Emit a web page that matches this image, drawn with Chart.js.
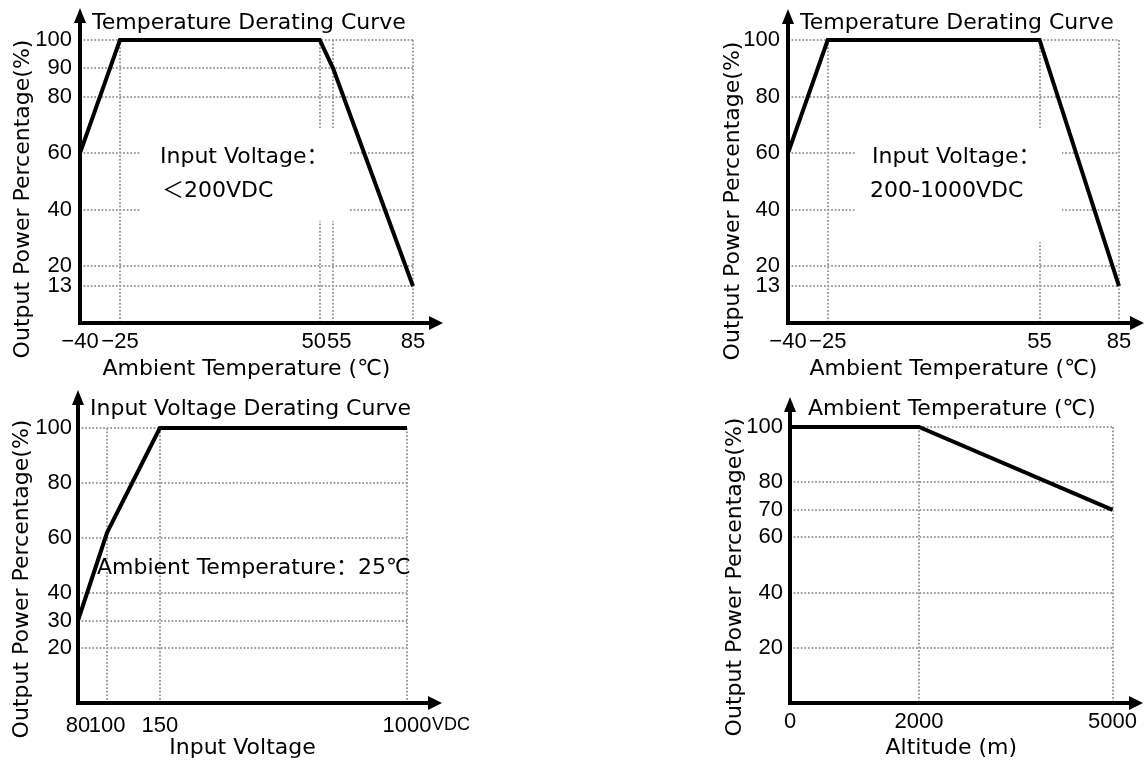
<!DOCTYPE html>
<html>
<head>
<meta charset="utf-8">
<script src="https://cdn.jsdelivr.net/npm/chart.js@4.4.0/dist/chart.umd.min.js"></script>
<style>
  body { margin: 0; background: #fff; width: 1145px; height: 763px; position: relative; overflow: hidden; }
  .box { position: absolute; }
</style>
</head>
<body>
<div class="box" style="left:0;top:0"><canvas id="c1" width="460" height="380"></canvas></div>
<div class="box" style="left:680px;top:0"><canvas id="c2" width="465" height="380"></canvas></div>
<div class="box" style="left:0;top:380px"><canvas id="c3" width="480" height="383"></canvas></div>
<div class="box" style="left:680px;top:380px"><canvas id="c4" width="465" height="383"></canvas></div>
<script>
// chart 1: temperature derating, input < 200VDC
const temp1 = [-40, -25, 50, 55, 85];
const power1 = [60, 100, 100, 90, 13];
const tempTicks1 = [-40, -25, 50, 55, 85];
const powerTicks1 = [13, 20, 40, 60, 80, 90, 100];

// chart 2: temperature derating, input 200-1000VDC
const temp2 = [-40, -25, 55, 85];
const power2 = [60, 100, 100, 13];
const tempTicks2 = [-40, -25, 55, 85];
const powerTicks2 = [13, 20, 40, 60, 80, 100];

// chart 3: input voltage derating
const volt3 = [80, 100, 150, 1000];
const power3 = [30, 62, 100, 100];
const voltTicks3 = [80, 100, 150, 1000];
const powerTicks3 = [20, 30, 40, 60, 80, 100];

// chart 4: altitude derating
const alt4 = [0, 2000, 5000];
const power4 = [100, 100, 70];
const altTicks4 = [0, 2000, 5000];
const powerTicks4 = [20, 40, 60, 70, 80, 100];

const yTitle = 'Output Power Percentage(%)';

const TEXT_FAMILY = '"DejaVu Sans", "Noto Sans CJK SC", sans-serif';
const NUM_FAMILY = '"Liberation Sans", Arial, sans-serif';
const TEXT_FONT = '22px ' + TEXT_FAMILY;

function fmt(v) {
    return v < 0 ? '\u2212' + Math.abs(v) : String(v);
}

// 50 and 55 sit very close on the axis, push them apart a little
function fmtTemp(v) {
    if (v === 50) return fmt(v) + '\u2007';
    if (v === 55) return '\u2007' + fmt(v);
    return fmt(v);
}

function decorPlugin(d) {
    return {
        id: 'decor',
        beforeDatasetsDraw(chart) {
            const ctx = chart.ctx;
            ctx.save();
            ctx.fillStyle = '#fff';
            (d.boxes || []).forEach(b => ctx.fillRect(b[0], b[1], b[2], b[3]));
            ctx.fillStyle = '#000';
            ctx.textBaseline = 'alphabetic';
            d.notes.forEach(n => {
                ctx.font = n.font || TEXT_FONT;
                ctx.fillText(n.text, n.x, n.y);
            });
            ctx.font = TEXT_FONT;
            ctx.translate(d.yTitleX, d.yTitleY);
            ctx.rotate(-Math.PI / 2);
            ctx.textAlign = 'center';
            ctx.textBaseline = 'middle';
            ctx.fillText(yTitle, 0, 0);
            ctx.restore();
        },
        afterDatasetsDraw(chart) {
            const ctx = chart.ctx;
            const a = chart.chartArea;
            ctx.save();
            ctx.strokeStyle = '#000';
            ctx.fillStyle = '#000';
            ctx.lineWidth = 4;
            ctx.beginPath();
            ctx.moveTo(a.left, a.bottom + 2);
            ctx.lineTo(a.left, d.arrowTop + 10);
            ctx.moveTo(a.left - 2, a.bottom);
            ctx.lineTo(d.arrowRight - 10, a.bottom);
            ctx.stroke();
            ctx.beginPath();
            ctx.moveTo(a.left, d.arrowTop);
            ctx.lineTo(a.left - 6, d.arrowTop + 15);
            ctx.lineTo(a.left + 6, d.arrowTop + 15);
            ctx.closePath();
            ctx.moveTo(d.arrowRight, a.bottom);
            ctx.lineTo(d.arrowRight - 14, a.bottom - 7);
            ctx.lineTo(d.arrowRight - 14, a.bottom + 7);
            ctx.closePath();
            ctx.fill();
            ctx.restore();
        }
    };
}

function makeChart(id, xs, ys, xTicks, yTicks, d) {
    const gridOpts = { color: '#9c9c9c', lineWidth: 2, drawTicks: false };
    const borderOpts = { display: false, dash: [1.7, 1.9] };
    const numFont = { family: NUM_FAMILY, size: 22, lineHeight: 1 };

    return new Chart(document.getElementById(id), {
        type: 'line',
        data: {
            datasets: [{
                data: xs.map((x, i) => ({ x: x, y: ys[i] })),
                borderColor: '#000',
                borderWidth: 4,
                pointRadius: 0,
                tension: 0,
                clip: false
            }]
        },
        options: {
            responsive: false,
            animation: false,
            events: [],
            layout: { padding: { top: d.top, right: d.right, left: 0, bottom: 0 } },
            plugins: { legend: { display: false }, tooltip: { enabled: false } },
            scales: {
                x: {
                    type: d.xType || 'linear',
                    min: xTicks[0],
                    max: xTicks[xTicks.length - 1],
                    afterBuildTicks: s => { s.ticks = xTicks.map(v => ({ value: v })); },
                    afterFit: s => { s.height = d.xHeight; },
                    grid: gridOpts,
                    border: borderOpts,
                    ticks: {
                        padding: d.xPad,
                        font: numFont,
                        color: '#000',
                        maxRotation: 0,
                        autoSkip: false,
                        callback: d.xLabel || fmt
                    },
                    title: {
                        display: true,
                        text: d.xTitle,
                        color: '#000',
                        font: { family: TEXT_FAMILY, size: 22, lineHeight: 1 },
                        padding: { top: 0, bottom: d.xTitlePad }
                    }
                },
                y: {
                    min: 0,
                    max: 100,
                    afterBuildTicks: s => { s.ticks = yTicks.map(v => ({ value: v })); },
                    afterFit: s => { s.width = d.yWidth; },
                    grid: gridOpts,
                    border: borderOpts,
                    ticks: {
                        padding: d.yPad,
                        font: numFont,
                        color: '#000',
                        autoSkip: false,
                        callback: v => fmt(v)
                    }
                }
            }
        },
        plugins: [decorPlugin(d)]
    });
}

makeChart('c1', temp1, power1, tempTicks1, powerTicks1, {
    top: 40, right: 47, xHeight: 57, yWidth: 80, xPad: 8, yPad: 8, xTitlePad: 0,
    xTitle: 'Ambient Temperature (\u2103)', xLabel: fmtTemp,
    arrowTop: 8, arrowRight: 443, yTitleX: 23, yTitleY: 199,
    boxes: [[140, 128, 210, 93]],
    notes: [
        { text: 'Temperature Derating Curve', x: 92, y: 29 },
        { text: 'Input Voltage\uFF1A', x: 160, y: 163 },
        { text: '\uFF1C200VDC', x: 162, y: 197 }
    ]
});

makeChart('c2', temp2, power2, tempTicks2, powerTicks2, {
    top: 40, right: 26, xHeight: 57, yWidth: 108, xPad: 8, yPad: 8, xTitlePad: 0,
    xTitle: 'Ambient Temperature (\u2103)',
    arrowTop: 9, arrowRight: 464, yTitleX: 53, yTitleY: 201,
    boxes: [[175, 128, 207, 114]],
    notes: [
        { text: 'Temperature Derating Curve', x: 120, y: 29 },
        { text: 'Input Voltage\uFF1A', x: 192, y: 163 },
        { text: '200-1000VDC', x: 190, y: 197 }
    ]
});

makeChart('c3', volt3, power3, voltTicks3, powerTicks3, {
    xType: 'logarithmic',
    top: 48, right: 73, xHeight: 60, yWidth: 78, xPad: 12, yPad: 6, xTitlePad: 4,
    xTitle: 'Input Voltage',
    arrowTop: 10, arrowRight: 442, yTitleX: 22, yTitleY: 199,
    notes: [
        { text: 'Input Voltage Derating Curve', x: 90, y: 35 },
        { text: 'Ambient Temperature\uFF1A25\u2103', x: 97, y: 194 },
        { text: 'VDC', x: 432, y: 350, font: '18px ' + NUM_FAMILY }
    ]
});

makeChart('c4', alt4, power4, altTicks4, powerTicks4, {
    top: 47, right: 32, xHeight: 60, yWidth: 110, xPad: 8, yPad: 7, xTitlePad: 4,
    xTitle: 'Altitude (m)',
    arrowTop: 17, arrowRight: 463, yTitleX: 55, yTitleY: 197,
    notes: [
        { text: 'Ambient Temperature (\u2103)', x: 128, y: 35 }
    ]
});
</script>
</body>
</html>
